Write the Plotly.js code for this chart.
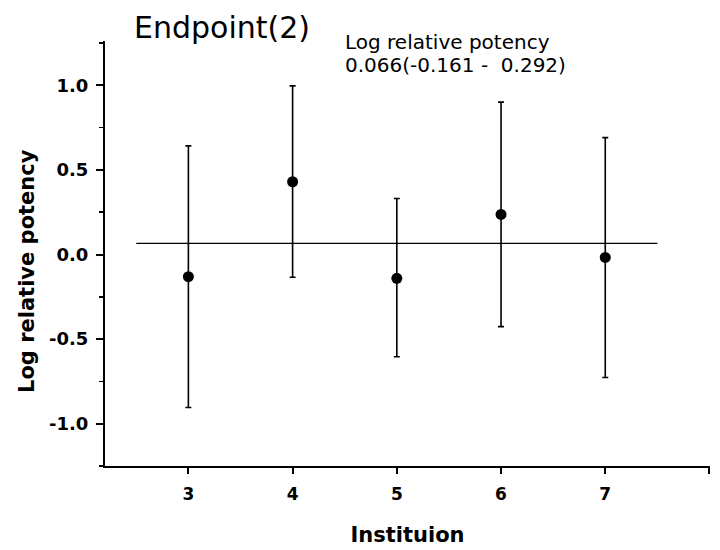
<!DOCTYPE html>
<html>
<head>
<meta charset="utf-8">
<script src="https://cdn.plot.ly/plotly-3.0.1.min.js"></script>
<style>html,body{margin:0;padding:0;background:#fff;}#chart{width:720px;height:550px;}</style>
</head>
<body>
<div id="chart"></div>
<script>
// Data
const institutions = [3, 4, 5, 6, 7];
const estimates = [-0.131, 0.430, -0.141, 0.237, -0.017];
const upperLimits = [0.642, 0.997, 0.331, 0.901, 0.691];
const lowerLimits = [-0.904, -0.134, -0.604, -0.426, -0.727];
const pooledEstimate = 0.066;
const pooledLower = -0.161;
const pooledUpper = 0.292;
const pooledLineX = [2.5, 7.5];
const xTickVals = [3, 4, 5, 6, 7, 8];
const xTickText = ['3', '4', '5', '6', '7', ''];
const yTickVals = [1.0, 0.5, 0.0, -0.5, -1.0];
const yTickText = ['1.0', '0.5', '0.0', '-0.5', '-1.0'];

const FONT = 'DejaVu Sans, Verdana, sans-serif';

const errPlus = upperLimits.map((u, i) => u - estimates[i]);
const errMinus = lowerLimits.map((l, i) => estimates[i] - l);

const traces = [
  {
    x: pooledLineX,
    y: pooledLineX.map(() => pooledEstimate),
    type: 'scatter', mode: 'lines',
    line: {color: '#000', width: 1.2},
    hoverinfo: 'skip', showlegend: false
  },
  {
    x: institutions,
    y: estimates,
    type: 'scatter', mode: 'markers',
    marker: {color: '#000', size: 11, symbol: 'circle'},
    error_y: {
      type: 'data', symmetric: false,
      array: errPlus, arrayminus: errMinus,
      color: '#000', thickness: 1.6, width: 3
    },
    showlegend: false
  }
];

const fmt = v => v.toFixed(3);
const layout = {
  width: 720, height: 550,
  paper_bgcolor: '#fff', plot_bgcolor: '#fff',
  margin: {l: 105, r: 10, t: 41, b: 84},
  font: {family: FONT, color: '#000'},
  showlegend: false,
  title: {
    text: 'Endpoint(2)',
    font: {family: FONT, size: 30, color: '#000'},
    xref: 'container', yref: 'container',
    x: 134 / 720, xanchor: 'left',
    y: 1 - 27 / 550, yanchor: 'middle'
  },
  xaxis: {
    range: [2.2, 8.005],
    tickmode: 'array', tickvals: xTickVals, ticktext: xTickText,
    ticks: 'outside', ticklen: 6, tickwidth: 2, tickcolor: '#000',
    showline: true, linecolor: '#000', linewidth: 2,
    showgrid: false, zeroline: false,
    tickfont: {family: FONT, size: 17, color: '#000', weight: 'bold'},
    ticklabelstandoff: 6,
    title: {text: 'Instituion', font: {family: FONT, size: 21, color: '#000', weight: 'bold'}, standoff: 24}
  },
  yaxis: {
    range: [-1.25, 1.262],
    tickmode: 'array', tickvals: yTickVals, ticktext: yTickText,
    ticks: 'outside', ticklen: 7, tickwidth: 2, tickcolor: '#000',
    minor: {tickmode: 'linear', tick0: 0, dtick: 0.25, ticks: 'outside', ticklen: 4, tickwidth: 1.5, tickcolor: '#000'},
    showline: true, linecolor: '#000', linewidth: 2,
    showgrid: false, zeroline: false,
    tickfont: {family: FONT, size: 18, color: '#000', weight: 'bold'},
    ticklabelstandoff: 4
  },
  annotations: [
    {
      text: 'Log relative potency',
      xref: 'paper', yref: 'paper',
      x: (27 - 105) / 605, xanchor: 'center',
      y: (466 - 271) / 425, yanchor: 'middle',
      textangle: -90,
      showarrow: false,
      font: {family: FONT, size: 21, color: '#000', weight: 'bold'}
    },
    {
      text: 'Log relative potency',
      xref: 'paper', yref: 'paper',
      x: (343 - 105) / 605, xanchor: 'left',
      y: (466 - 42) / 425, yanchor: 'middle',
      showarrow: false,
      font: {family: FONT, size: 20, color: '#000'}
    },
    {
      text: fmt(pooledEstimate) + '(' + fmt(pooledLower) + ' -\u00a0 ' + fmt(pooledUpper) + ')',
      xref: 'paper', yref: 'paper',
      x: (343 - 105) / 605, xanchor: 'left',
      y: (466 - 65) / 425, yanchor: 'middle',
      showarrow: false,
      font: {family: FONT, size: 20, color: '#000'}
    }
  ]
};

Plotly.newPlot('chart', traces, layout, {displayModeBar: false, staticPlot: true});
</script>
</body>
</html>
